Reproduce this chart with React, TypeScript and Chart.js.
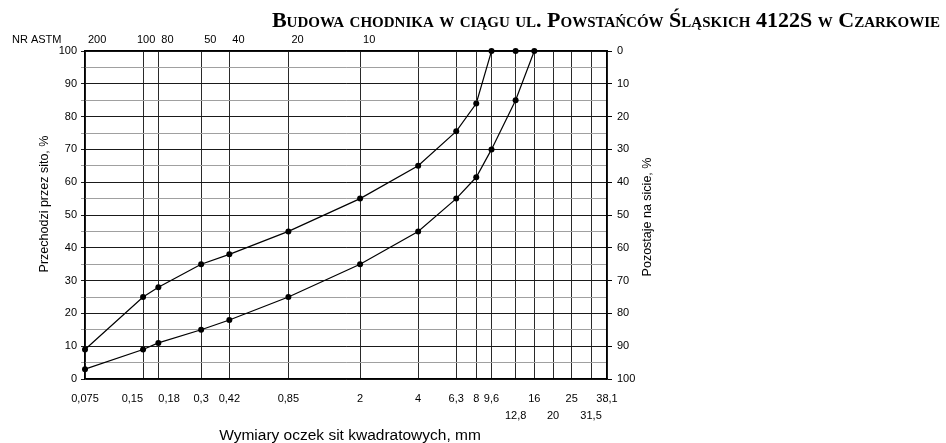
import React, { useEffect, useRef } from 'react';
import { Chart, registerables } from 'chart.js';

Chart.register(...registerables);

// Sieve sizes (mm) and their labels on the bottom axis
const sieveSizes = [0.075, 0.15, 0.18, 0.3, 0.42, 0.85, 2, 4, 6.3, 8, 9.6, 12.8, 16, 20, 25, 31.5, 38.1];
const sieveLabels = ['0,075', '0,15', '0,18', '0,3', '0,42', '0,85', '2', '4', '6,3', '8', '9,6', '12,8', '16', '20', '25', '31,5', '38,1'];
const secondRowLabels = ['12,8', '20', '31,5'];

// ASTM sieve numbers on the top axis
const astmSizes = [0.075, 0.15, 0.18, 0.3, 0.42, 0.85, 2];
const astmLabels = ['200', '100', '80', '50', '40', '20', '10'];

// Upper grading limit curve
const upperX = [0.075, 0.15, 0.18, 0.3, 0.42, 0.85, 2, 4, 6.3, 8, 9.6, 12.8];
const upperY = [9, 25, 28, 35, 38, 45, 55, 65, 75.5, 84, 100, 100];

// Lower grading limit curve
const lowerX = [0.075, 0.15, 0.18, 0.3, 0.42, 0.85, 2, 4, 6.3, 8, 9.6, 12.8, 16];
const lowerY = [3, 9, 11, 15, 18, 25, 35, 45, 55, 61.5, 70, 85, 100];

const titleText = 'Budowa chodnika w ciągu ul. Powstańców Śląskich 4122S w Czarkowie';
const astmHeader = 'NR ASTM';
const leftTitle = 'Przechodzi przez sito, %';
const rightTitle = 'Pozostaje na sicie, %';
const bottomTitle = 'Wymiary oczek sit kwadratowych, mm';

const SANS = "'Liberation Sans', Arial, sans-serif";

// per-label text alignment tweaks (style only)
const bottomAlign: Record<string, CanvasTextAlign> = { '0,15': 'right', '0,18': 'left' };
const topAlign: Record<string, CanvasTextAlign> = { '100': 'center' };

const alignPlugin = {
  id: 'labelAlign',
  beforeDraw(chart: any) {
    const apply = (scale: any, map: Record<string, CanvasTextAlign>) => {
      if (!scale || !scale.getLabelItems) return;
      const items = scale.getLabelItems();
      items.forEach((it: any) => {
        const txt = Array.isArray(it.label) ? it.label[it.label.length - 1] : it.label;
        if (map[txt]) it.options.textAlign = map[txt];
      });
    };
    apply(chart.scales.x, bottomAlign);
    apply(chart.scales.xTop, topAlign);
  },
};

const textPlugin = {
  id: 'freeText',
  afterDraw(chart: any) {
    const ctx = chart.ctx as CanvasRenderingContext2D;
    ctx.save();
    ctx.fillStyle = '#000';
    ctx.font = "small-caps bold 22px 'Liberation Serif', serif";
    try { (ctx as any).fontVariantCaps = 'small-caps'; } catch (e) {}
    ctx.textAlign = 'right';
    ctx.textBaseline = 'alphabetic';
    ctx.fillText(titleText, 940, 27);
    try { (ctx as any).fontVariantCaps = 'normal'; } catch (e) {}

    ctx.font = `11px ${SANS}`;
    ctx.textAlign = 'left';
    ctx.textBaseline = 'middle';
    ctx.fillText(astmHeader, 12, 40);

    ctx.font = `12.5px ${SANS}`;
    ctx.textAlign = 'center';
    ctx.save();
    ctx.translate(45, 204);
    ctx.rotate(-Math.PI / 2);
    ctx.fillText(leftTitle, 0, 0);
    ctx.restore();

    ctx.save();
    ctx.translate(648, 217);
    ctx.rotate(-Math.PI / 2);
    ctx.fillText(rightTitle, 0, 0);
    ctx.restore();

    ctx.font = `15.5px ${SANS}`;
    ctx.fillText(bottomTitle, 350, 436);
    ctx.restore();
  },
};

export default function App() {
  const ref = useRef<HTMLCanvasElement>(null);

  useEffect(() => {
    if (!ref.current) return;
    const tickFont = { family: SANS, size: 11 };
    const lineStyle = {
      borderColor: '#000',
      borderWidth: 1.2,
      pointRadius: 3,
      pointBackgroundColor: '#000',
      pointBorderWidth: 0,
      tension: 0,
      fill: false,
      clip: false,
    };
    const chart = new Chart(ref.current, {
      type: 'line',
      data: {
        datasets: [
          { data: upperX.map((x, i) => ({ x, y: upperY[i] })), ...lineStyle } as any,
          { data: lowerX.map((x, i) => ({ x, y: lowerY[i] })), ...lineStyle } as any,
        ],
      },
      options: {
        responsive: false,
        animation: false,
        devicePixelRatio: 1,
        layout: { padding: 0 },
        plugins: {
          legend: { display: false },
          tooltip: { enabled: false },
          title: { display: false },
        },
        scales: {
          x: {
            type: 'logarithmic',
            position: 'bottom',
            min: 0.075,
            max: 38.1,
            afterBuildTicks: (s: any) => {
              s.ticks = sieveSizes.map((v) => ({ value: v }));
            },
            afterFit: (s: any) => {
              s.height = 64;
            },
            grid: { color: '#2a2a2a', lineWidth: 1, drawTicks: false },
            border: { display: true, color: '#000', width: 1.3 },
            ticks: {
              autoSkip: false,
              maxRotation: 0,
              minRotation: 0,
              padding: 12,
              color: '#000',
              font: { ...tickFont, lineHeight: 1.5 },
              callback: (_v: any, i: number) => {
                const lab = sieveLabels[i];
                return secondRowLabels.includes(lab) ? ['', lab] : lab;
              },
            },
          },
          xTop: {
            type: 'logarithmic',
            position: 'top',
            min: 0.075,
            max: 38.1,
            afterBuildTicks: (s: any) => {
              s.ticks = astmSizes.map((v) => ({ value: v }));
            },
            afterFit: (s: any) => {
              s.height = 51;
            },
            grid: { display: false, drawTicks: false },
            border: { display: true, color: '#000', width: 1.3 },
            ticks: {
              autoSkip: false,
              maxRotation: 0,
              minRotation: 0,
              padding: 4,
              align: 'start',
              labelOffset: 3,
              color: '#000',
              font: tickFont,
              callback: (_v: any, i: number) => astmLabels[i],
            },
          },
          y: {
            position: 'left',
            min: 0,
            max: 100,
            afterFit: (s: any) => {
              s.width = 85;
            },
            grid: {
              color: (c: any) => (c.tick && c.tick.value % 10 === 0 ? '#1a1a1a' : '#a0a0a0'),
              lineWidth: 1,
              tickLength: 4,
            },
            border: { display: true, color: '#000', width: 1.3 },
            ticks: {
              stepSize: 5,
              padding: 4,
              color: '#000',
              font: tickFont,
              callback: (v: any) => (Number(v) % 10 === 0 ? String(v) : ''),
            },
          },
          y2: {
            position: 'right',
            min: 0,
            max: 100,
            reverse: true,
            afterFit: (s: any) => {
              s.width = 339;
            },
            grid: { drawOnChartArea: false, tickLength: 5, color: '#000' },
            border: { display: true, color: '#000', width: 1.3 },
            ticks: {
              stepSize: 10,
              padding: 5,
              color: '#000',
              font: tickFont,
            },
          },
        },
      } as any,
      plugins: [alignPlugin, textPlugin],
    });
    return () => chart.destroy();
  }, []);

  return (
    <div style={{ position: 'absolute', left: 0, top: 0, width: 946, height: 443 }}>
      <canvas ref={ref} width={946} height={443} style={{ display: 'block', width: 946, height: 443 }} />
    </div>
  );
}
